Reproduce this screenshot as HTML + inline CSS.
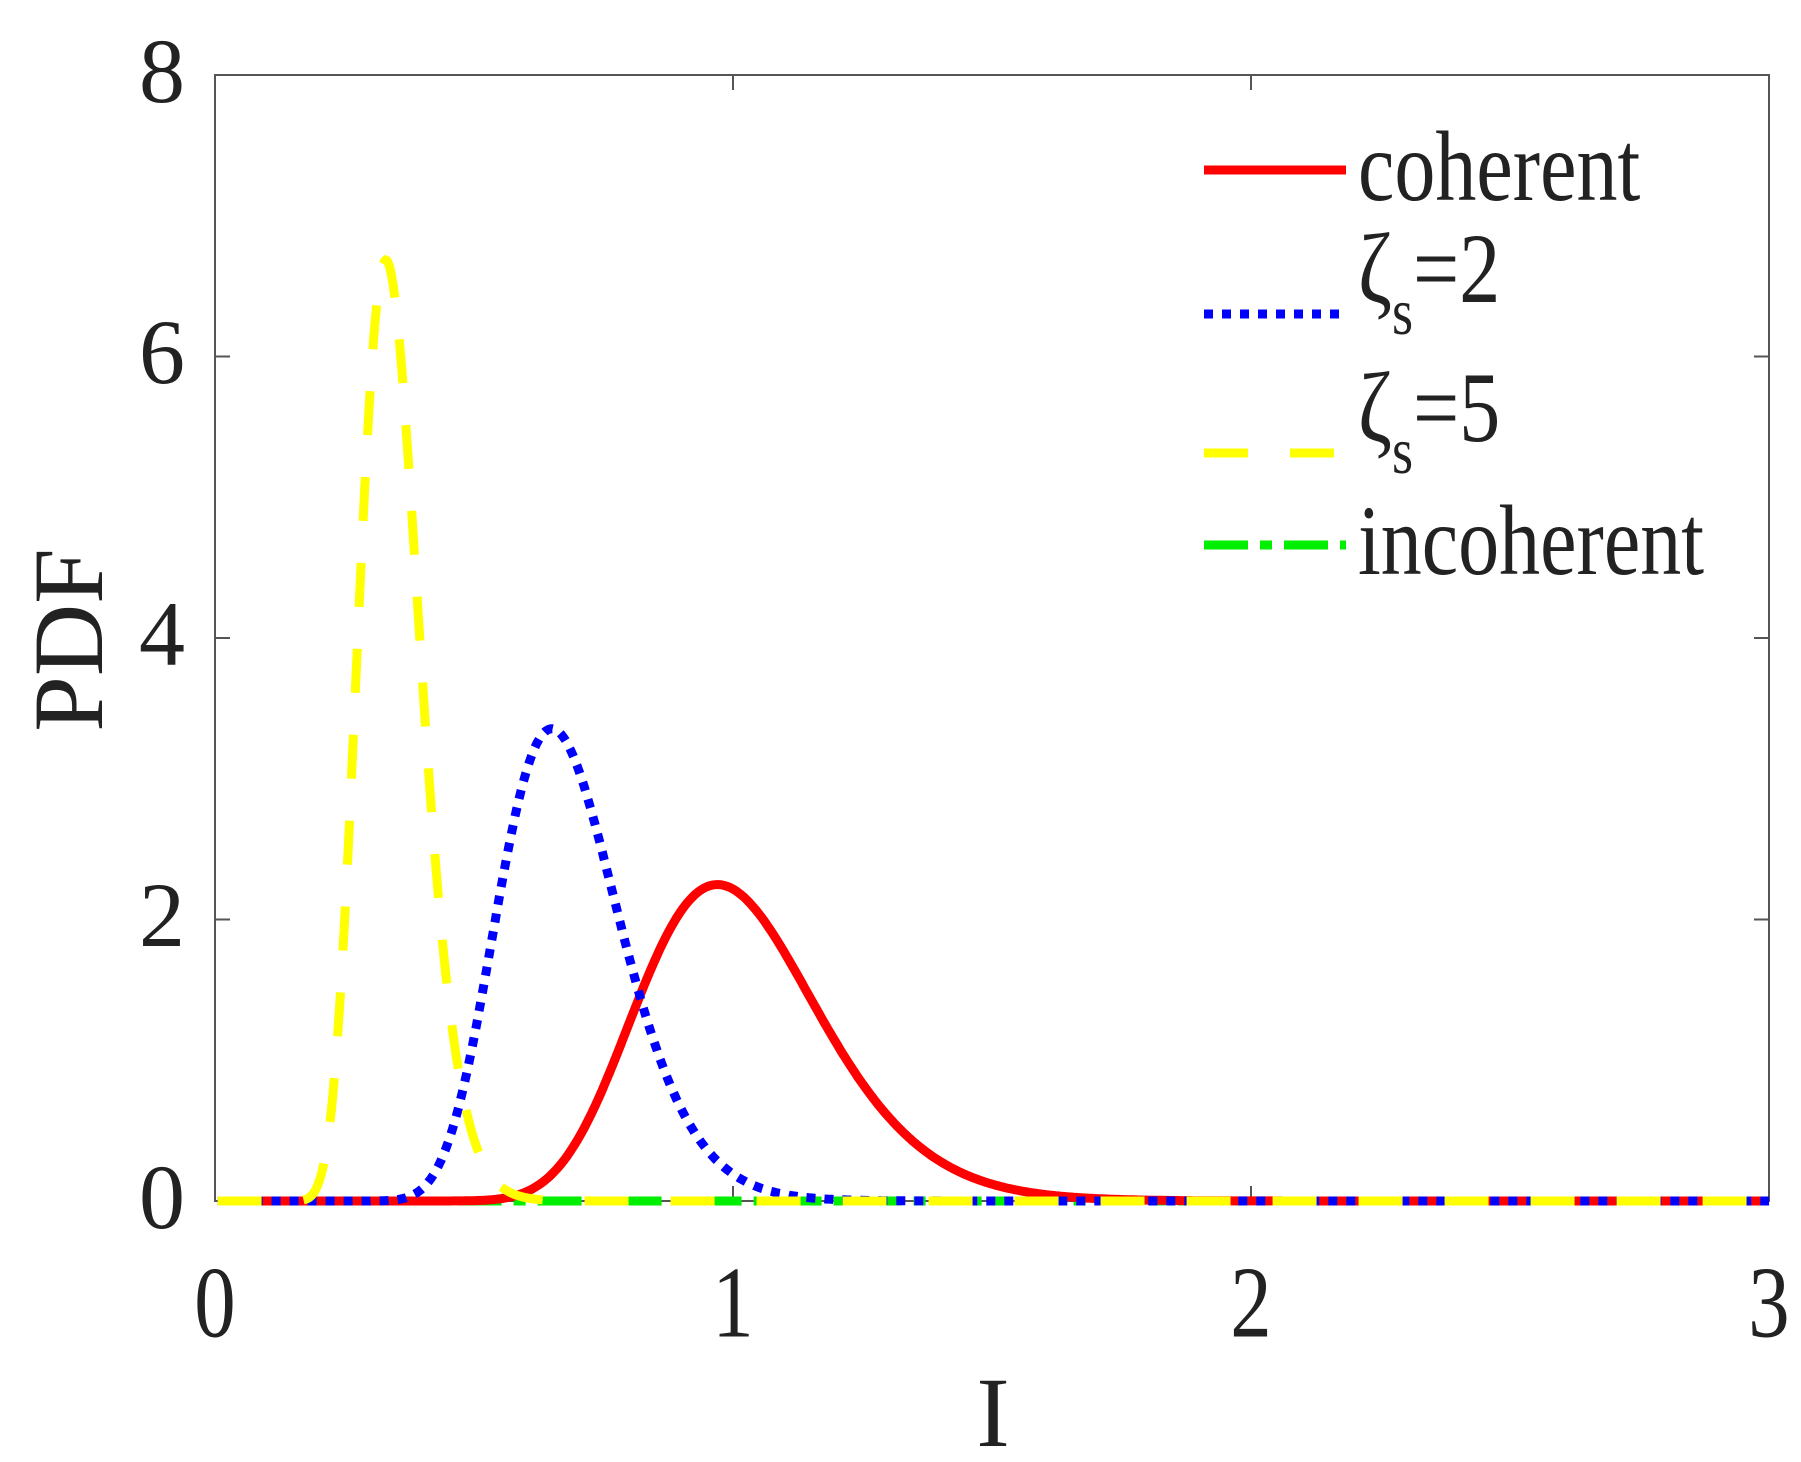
<!DOCTYPE html>
<html><head><style>
html,body{margin:0;padding:0;background:#fff;}
svg{display:block;}
text{font-family:"Liberation Serif",serif;fill:#222;}
</style></head><body>
<svg id="s" width="1801" height="1462" viewBox="0 0 1801 1462">
<rect x="215" y="75" width="1554" height="1126" fill="#fff" stroke="#555" stroke-width="2"/>
<g stroke="#555" stroke-width="2">
<line x1="733" y1="1201" x2="733" y2="1186"/><line x1="1251" y1="1201" x2="1251" y2="1186"/>
<line x1="733" y1="75" x2="733" y2="90"/><line x1="1251" y1="75" x2="1251" y2="90"/>
<line x1="215" y1="356.5" x2="230" y2="356.5"/><line x1="215" y1="638" x2="230" y2="638"/><line x1="215" y1="919.5" x2="230" y2="919.5"/>
<line x1="1769" y1="356.5" x2="1754" y2="356.5"/><line x1="1769" y1="638" x2="1754" y2="638"/><line x1="1769" y1="919.5" x2="1754" y2="919.5"/>
</g>
<g id="curves" fill="none" stroke-width="9"></g>
<g font-size="92" text-anchor="middle">
<text x="215" y="1335" transform="translate(215 0) scale(0.9 1.1) translate(-215 0)" dy="-120">0</text>
<text x="733" y="1335" transform="translate(733 0) scale(0.9 1.1) translate(-733 0)" dy="-120">1</text>
<text x="1251" y="1335" transform="translate(1251 0) scale(0.9 1.1) translate(-1251 0)" dy="-120">2</text>
<text x="1769" y="1335" transform="translate(1769 0) scale(0.9 1.1) translate(-1769 0)" dy="-120">3</text>
</g>
<g font-size="92" text-anchor="end">
<text x="185" y="102">8</text>
<text x="185" y="383">6</text>
<text x="185" y="665">4</text>
<text x="185" y="946">2</text>
<text x="185" y="1228">0</text>
</g>
<text x="993" y="1446" font-size="100" text-anchor="middle">I</text>
<text transform="translate(102 640) rotate(-90)" font-size="100" text-anchor="middle">PDF</text>
<g stroke-width="9">
<line x1="1204" y1="170" x2="1346" y2="170" stroke="#ff0000"/>
<line x1="1204" y1="314" x2="1346" y2="314" stroke="#0000ff" stroke-dasharray="9 9"/>
<line x1="1204" y1="453" x2="1346" y2="453" stroke="#ffff00" stroke-dasharray="44 42"/>
<line x1="1204" y1="545" x2="1346" y2="545" stroke="#00ee00" stroke-dasharray="44 12 12 12"/>
</g>
<g font-size="100" transform="translate(1358 0) scale(0.82 1) translate(-1358 0)">
<text x="1358" y="200">coherent</text>
<text x="1358" y="302">ζ<tspan font-size="66" dy="32">s</tspan><tspan dy="-32">=2</tspan></text>
<text x="1358" y="441">ζ<tspan font-size="66" dy="32">s</tspan><tspan dy="-32">=5</tspan></text>
<text x="1358" y="574">incoherent</text>
</g>
</svg>
<script>
var g=document.getElementById('curves');
function X(v){return 215+v*518;}function Y(v){return 1201-v*140.75;}
function path(m,s){var d='';var mu=Math.log(m)+s*s;for(var i=0;i<=1200;i++){var x=0.005+i*2.995/1200;var p=Math.exp(-Math.pow(Math.log(x)-mu,2)/(2*s*s))/(x*s*Math.sqrt(2*Math.PI));d+=(i?'L':'M')+X(x).toFixed(1)+' '+Y(p).toFixed(1);}return d;}
function add(d,c,da){var p=document.createElementNS('http://www.w3.org/2000/svg','path');p.setAttribute('d',d);p.setAttribute('stroke',c);if(da)p.setAttribute('stroke-dasharray',da);g.appendChild(p);}
add('M'+X(0.005)+' 1201L'+X(3)+' 1201','#00ee00','44 12 12 12');
add(path(0.97,0.18),'#ff0000');
add(path(0.65,0.18),'#0000ff','9 9');
add(path(0.33,0.178),'#ffff00','44 42');
</script>
</body></html>
